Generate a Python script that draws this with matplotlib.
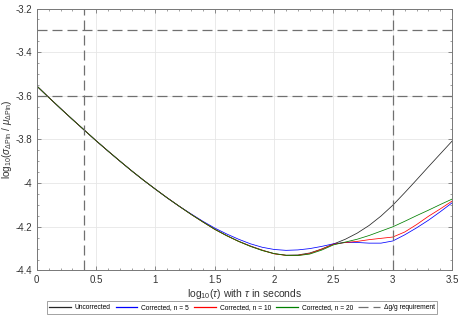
import matplotlib
matplotlib.use("Agg")
import matplotlib.pyplot as plt
from matplotlib.ticker import MultipleLocator, FuncFormatter

plt.rcParams['font.family'] = ['Liberation Sans', 'DejaVu Sans']
plt.rcParams['mathtext.fontset'] = 'custom'
plt.rcParams['mathtext.rm'] = 'Liberation Sans'
plt.rcParams['mathtext.it'] = 'Liberation Sans:italic'

# log10(tau) sample points
log_tau = [round(0.1 * i, 1) for i in range(36)]

# part shared by all four curves (log_tau 0 .. 1.2)
shared = [-3.555, -3.607, -3.658, -3.708, -3.757, -3.806, -3.853, -3.899,
          -3.944, -3.987, -4.028, -4.068, -4.106]

# log_tau 1.3 .. 3.5
uncorrected = shared + [-4.143, -4.178, -4.211, -4.240, -4.266, -4.288, -4.307,
                        -4.323, -4.330, -4.329, -4.320, -4.302, -4.279, -4.257,
                        -4.229, -4.194, -4.151, -4.101, -4.044, -3.985, -3.925,
                        -3.866, -3.807]
corr_n5 = shared + [-4.141, -4.175, -4.206, -4.233, -4.257, -4.278, -4.294,
                    -4.304, -4.308, -4.306, -4.300, -4.290, -4.278, -4.272,
                    -4.272, -4.275, -4.275, -4.265, -4.237, -4.205, -4.170,
                    -4.131, -4.090]
corr_n10 = shared + [-4.143, -4.178, -4.212, -4.241, -4.267, -4.289, -4.308,
                     -4.324, -4.331, -4.331, -4.323, -4.303, -4.280, -4.272,
                     -4.267, -4.259, -4.253, -4.247, -4.224, -4.190, -4.152,
                     -4.118, -4.082]
corr_n20 = shared + [-4.143, -4.178, -4.212, -4.241, -4.267, -4.290, -4.309,
                     -4.323, -4.331, -4.332, -4.325, -4.307, -4.283, -4.270,
                     -4.257, -4.240, -4.220, -4.200, -4.175, -4.149, -4.124,
                     -4.098, -4.073]

req_y = [-3.3, -3.6]
req_x = [0.4, 3.0]

fig = plt.figure(figsize=(4.6, 3.27), dpi=100)
ax = fig.add_axes([0.080, 0.173, 0.903, 0.801])

ax.plot(log_tau, uncorrected, color='#262626', lw=0.55, label='Uncorrected')
ax.plot(log_tau, corr_n5, color='#0000ff', lw=0.55, label='Corrected, n = 5')
ax.plot(log_tau, corr_n10, color='#ff0000', lw=0.55, label='Corrected, n = 10')
ax.plot(log_tau, corr_n20, color='#008000', lw=0.55, label='Corrected, n = 20')

dash = (0, (8, 4))
for i, y in enumerate(req_y):
    ax.axhline(y, color='#707070', lw=0.9, ls=dash,
               label='\u0394g/g requirement' if i == 0 else None)
for x in req_x:
    ax.axvline(x, color='#707070', lw=0.9, ls=dash)

ax.set_xlim(0, 3.5)
ax.set_ylim(-4.4, -3.2)
ax.xaxis.set_major_locator(MultipleLocator(0.5))
ax.xaxis.set_minor_locator(MultipleLocator(0.1))
ax.yaxis.set_major_locator(MultipleLocator(0.2))
ax.yaxis.set_minor_locator(MultipleLocator(0.05))
fmt = FuncFormatter(lambda v, p: ('%g' % round(v, 2)))
ax.xaxis.set_major_formatter(fmt)
ax.yaxis.set_major_formatter(fmt)

ax.grid(True, which='major', color='#e6e6e6', lw=0.6)
ax.set_axisbelow(True)
ax.tick_params(which='both', direction='in', top=True, right=True,
               color='#777777', labelcolor='#333333', labelsize=7)
ax.tick_params(which='major', length=3, width=0.6, pad=3)
ax.tick_params(which='minor', length=1.6, width=0.5)
for s in ax.spines.values():
    s.set_color('#777777')
    s.set_linewidth(0.7)

ax.set_xlabel(r'log$_{10}$($\tau$) with $\tau$ in seconds', fontsize=7.5,
              color='#333333', labelpad=2)
ax.set_ylabel(r'log$_{10}$($\sigma_{\Delta\mathrm{Pin}}$ / $\mu_{\Delta\mathrm{Pin}}$)',
              fontsize=7.2, color='#333333')
ax.yaxis.set_label_coords(-0.054, 0.5)

leg = ax.legend(loc='center', bbox_to_anchor=(0.526, 0.06),
                bbox_transform=fig.transFigure, ncol=5, fontsize=4.8,
                frameon=True, fancybox=False, edgecolor='#777777',
                handlelength=3.2, handletextpad=0.6, columnspacing=0.8,
                borderpad=0.4)
leg.get_frame().set_linewidth(0.6)
for h in leg.get_lines():
    h.set_linewidth(0.9)

fig.savefig('out.png', dpi=100)
